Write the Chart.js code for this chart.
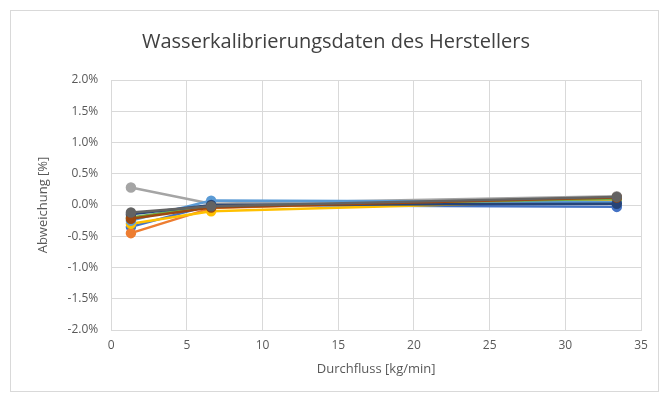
<!DOCTYPE html>
<html>
<head>
<meta charset="utf-8">
<script src="https://cdn.jsdelivr.net/npm/chart.js@4/dist/chart.umd.min.js"></script>
<style>
  body { margin: 0; background: #fff; }
  #wrap { position: absolute; left: 10px; top: 10px; width: 649px; height: 382px; border: 1px solid #d9d9d9; box-sizing: border-box; }
</style>
</head>
<body>
<div id="wrap"><canvas id="lineChart"></canvas></div>
<script>
// Durchfluss [kg/min] of the three calibration points
var flows = [1.3, 6.6, 33.4];

// Abweichung [%] per run
var run1 = [-0.35, 0.00, -0.03];
var run2 = [-0.45, -0.05, 0.13];
var run3 = [0.28, 0.02, 0.14];
var run4 = [-0.30, -0.10, 0.08];
var run5 = [-0.25, 0.07, 0.05];
var run6 = [-0.20, -0.02, 0.10];
var run7 = [-0.15, 0.00, 0.02];
var run8 = [-0.22, -0.04, 0.12];
var run9 = [-0.12, -0.02, 0.13];

var runs = [run1, run2, run3, run4, run5, run6, run7, run8, run9];
var colors = ['#4472C4', '#ED7D31', '#A5A5A5', '#FFC000', '#5B9BD5', '#70AD47', '#264478', '#9E480E', '#636363'];

var datasets = runs.map(function (vals, i) {
  return {
    label: 'Serie ' + (i + 1),
    data: vals.map(function (v, j) { return { x: flows[j], y: v }; }),
    borderColor: colors[i],
    backgroundColor: colors[i],
    borderWidth: 2.5,
    pointRadius: 4,
    pointHoverRadius: 4,
    showLine: true,
    tension: 0
  };
}).reverse();

var grey = '#595959';
var ctx = document.getElementById('lineChart').getContext('2d');
new Chart(ctx, {
  type: 'scatter',
  data: { datasets: datasets },
  options: {
    responsive: true,
    maintainAspectRatio: false,
    animation: false,
    layout: { padding: { left: 20, right: 17, top: 8, bottom: 14 } },
    plugins: {
      legend: { display: false },
      tooltip: { enabled: false },
      title: {
        display: true,
        text: 'Wasserkalibrierungsdaten des Herstellers',
        color: '#404040',
        font: { family: 'Open Sans', size: 20, weight: 'normal' },
        padding: { top: 11, bottom: 26 }
      }
    },
    scales: {
      x: {
        type: 'linear',
        min: 0, max: 35,
        ticks: { stepSize: 5, color: grey, padding: 8, font: { family: 'Open Sans', size: 12 } },
        grid: { color: '#d9d9d9', drawTicks: false },
        border: { color: '#d9d9d9' },
        title: { display: true, text: 'Durchfluss [kg/min]', color: grey, padding: { top: 1, bottom: 0 }, font: { family: 'Open Sans', size: 13 } }
      },
      y: {
        min: -2, max: 2,
        ticks: {
          stepSize: 0.5, color: grey, padding: 13,
          font: { family: 'Open Sans', size: 12 },
          callback: function (v) { return v.toFixed(1) + '%'; }
        },
        grid: { color: '#d9d9d9', drawTicks: false },
        border: { display: false },
        title: { display: true, text: 'Abweichung [%]', color: grey, font: { family: 'Open Sans', size: 13 } }
      }
    }
  }
});
</script>
</body>
</html>
